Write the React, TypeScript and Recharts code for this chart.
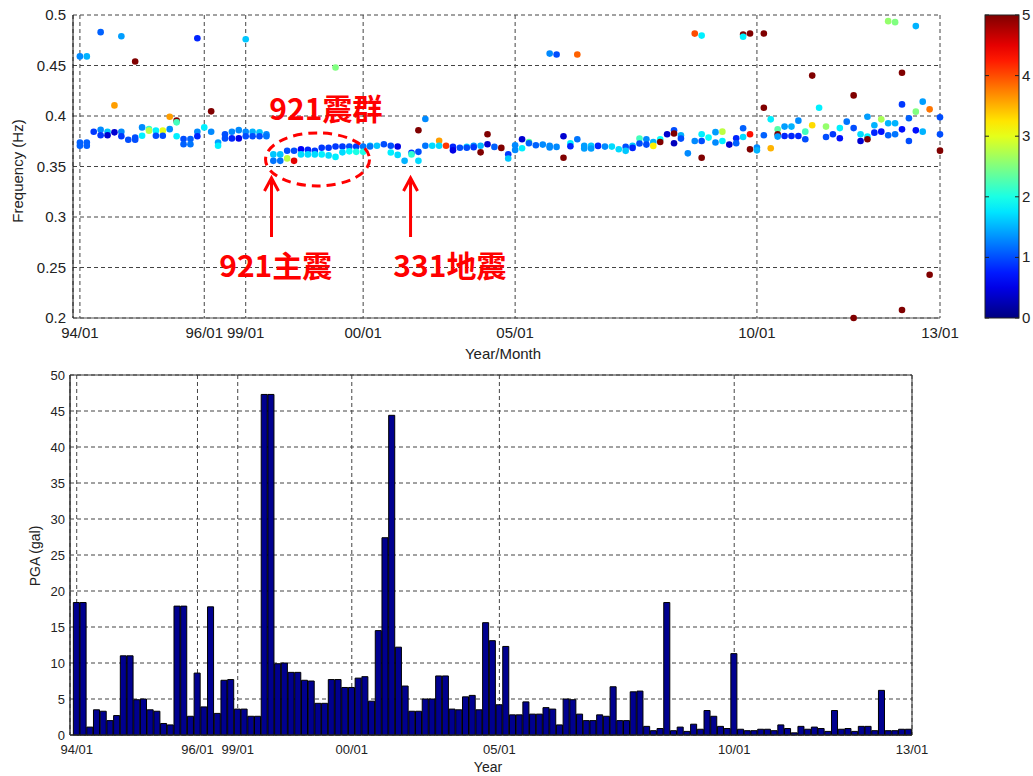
import React from "react";
import {
  ScatterChart,
  Scatter,
  BarChart,
  Bar,
  XAxis,
  YAxis,
  CartesianGrid,
  ReferenceDot,
  ReferenceArea,
} from "recharts";

// shared event-index axis (both panels)
const xDomain: [number, number] = [0, 125.5];
const xTickPos = [1, 19, 25, 42, 64, 99, 125.5];
const xTickLabels = ["94/01", "96/01", "99/01", "00/01", "05/01", "10/01", "13/01"];

const freqTicks = [0.2, 0.25, 0.3, 0.35, 0.4, 0.45, 0.5];
const pgaTicks = [0, 5, 10, 15, 20, 25, 30, 35, 40, 45, 50];
const levelTicks = [0, 1, 2, 3, 4, 5];

// [event index, frequency (Hz), colour level 0-5]
const freqPoints: [number, number, number][] = [
  [1, 0.459, 1.3], [1, 0.3738, 1.1], [1, 0.3705, 1.1],
  [2, 0.459, 1.5], [2, 0.3738, 1.1], [2, 0.3705, 1.1],
  [3, 0.3844, 0.9],
  [4, 0.483, 1.1], [4, 0.3864, 1.3], [4, 0.381, 0.9],
  [5, 0.3844, 1.6], [5, 0.381, 0.4],
  [6, 0.4105, 3.6], [6, 0.3838, 0.4],
  [7, 0.479, 1.4], [7, 0.3844, 1.3], [7, 0.38, 0.9],
  [8, 0.3765, 1.0],
  [9, 0.454, 5], [9, 0.3786, 1.0], [9, 0.3765, 1.0],
  [10, 0.3887, 1.3], [10, 0.3805, 1.8],
  [11, 0.387, 2.1], [11, 0.3855, 2.8],
  [12, 0.3855, 1.8], [12, 0.3805, 1.0],
  [13, 0.3855, 3.0], [13, 0.3805, 1.0],
  [14, 0.3993, 3.6], [14, 0.387, 1.3],
  [15, 0.3954, 5], [15, 0.3937, 2.2], [15, 0.38, 1.8],
  [16, 0.3772, 1.0], [16, 0.372, 1.1],
  [17, 0.3772, 1.1], [17, 0.372, 1.2],
  [18, 0.477, 0.8], [18, 0.3844, 1.3], [18, 0.38, 0.8],
  [19, 0.3887, 1.8],
  [20, 0.4046, 5], [20, 0.3844, 1.3],
  [21, 0.3738, 1.4], [21, 0.3705, 1.8],
  [22, 0.382, 1.0], [22, 0.3778, 1.0],
  [23, 0.3844, 1.3], [23, 0.3778, 0.8],
  [24, 0.386, 1.3], [24, 0.3778, 0.5],
  [25, 0.476, 1.6], [25, 0.3844, 1.3], [25, 0.38, 1.0],
  [26, 0.3844, 1.5], [26, 0.38, 1.0],
  [27, 0.3838, 1.6], [27, 0.38, 1.0],
  [28, 0.382, 1.3], [28, 0.38, 1.2],
  [29, 0.362, 1.6], [29, 0.3556, 1.2],
  [30, 0.362, 1.6], [30, 0.3556, 1.2],
  [31, 0.3656, 1.0], [31, 0.358, 2.8],
  [32, 0.3656, 1.0], [32, 0.3556, 4.5],
  [33, 0.367, 0.6], [33, 0.362, 1.7],
  [34, 0.3665, 0.8], [34, 0.362, 1.7],
  [35, 0.3656, 0.9], [35, 0.362, 1.7],
  [36, 0.3685, 0.9], [36, 0.362, 1.8],
  [37, 0.3685, 0.9], [37, 0.361, 1.7],
  [38, 0.448, 2.5], [38, 0.3698, 0.9], [38, 0.3595, 1.8],
  [39, 0.3698, 0.9], [39, 0.364, 1.7],
  [40, 0.3698, 1.0], [40, 0.365, 1.9],
  [41, 0.3698, 0.9], [41, 0.3645, 2.0],
  [42, 0.3698, 1.2], [42, 0.3645, 2.0],
  [43, 0.3705, 1.6], [43, 0.3698, 1.2],
  [44, 0.3705, 1.6],
  [45, 0.372, 1.0],
  [46, 0.3705, 1.0], [46, 0.3638, 1.8],
  [47, 0.3698, 0.5], [47, 0.3615, 1.7],
  [48, 0.3556, 1.5],
  [49, 0.3635, 0.9], [49, 0.362, 2.1],
  [50, 0.3859, 5], [50, 0.3645, 1.0], [50, 0.3556, 1.7],
  [51, 0.397, 1.3], [51, 0.3705, 1.2],
  [52, 0.3705, 1.7],
  [53, 0.3755, 3.6], [53, 0.3705, 1.7],
  [54, 0.3705, 4.1],
  [55, 0.3694, 0.8], [55, 0.366, 0.5],
  [56, 0.3685, 1.0],
  [57, 0.3694, 1.7], [57, 0.3685, 1.0],
  [58, 0.3705, 1.3], [58, 0.369, 0.9],
  [59, 0.3705, 1.5], [59, 0.364, 5],
  [60, 0.382, 5], [60, 0.372, 0.4],
  [61, 0.3694, 1.1],
  [62, 0.3684, 5],
  [63, 0.3622, 0.9], [63, 0.3579, 1.6],
  [64, 0.371, 1.3], [64, 0.3664, 1.3],
  [65, 0.377, 0.4], [65, 0.368, 1.8],
  [66, 0.3743, 2.3], [66, 0.373, 1.1],
  [67, 0.371, 1.1],
  [68, 0.3717, 1.3],
  [69, 0.4618, 1.3], [69, 0.3704, 1.3], [69, 0.3688, 1.3],
  [70, 0.4609, 1.0], [70, 0.3694, 1.3],
  [71, 0.38, 0.4], [71, 0.3586, 5],
  [72, 0.373, 1.8], [72, 0.37, 0.8],
  [73, 0.4609, 3.9], [73, 0.377, 1.2],
  [74, 0.3704, 1.4], [74, 0.3678, 1.4],
  [75, 0.3704, 1.6], [75, 0.3678, 1.4],
  [76, 0.3704, 0.8],
  [77, 0.3697, 1.3],
  [78, 0.3697, 1.7],
  [79, 0.3671, 1.7],
  [80, 0.3694, 1.0], [80, 0.3655, 1.6],
  [81, 0.3704, 1.6], [81, 0.3684, 0.8],
  [82, 0.3776, 2.2], [82, 0.3727, 1.0],
  [83, 0.377, 1.3], [83, 0.3717, 1.0],
  [84, 0.3743, 1.5], [84, 0.3704, 3.2],
  [85, 0.377, 1.9], [85, 0.3743, 5],
  [86, 0.382, 0.4],
  [87, 0.3859, 1.0], [87, 0.3826, 5], [87, 0.373, 0.3],
  [88, 0.381, 1.5], [88, 0.3776, 1.0],
  [89, 0.363, 1.3],
  [90, 0.4816, 4.0], [90, 0.3753, 1.3],
  [91, 0.4796, 1.8], [91, 0.382, 1.8], [91, 0.3753, 1.0], [91, 0.3586, 5],
  [92, 0.3786, 1.9],
  [93, 0.384, 1.4], [93, 0.3737, 1.3],
  [94, 0.3845, 2.8], [94, 0.3753, 1.8],
  [95, 0.3717, 0.4],
  [96, 0.378, 0.8], [96, 0.373, 1.1],
  [97, 0.4807, 5], [97, 0.4785, 1.8], [97, 0.3878, 1.1], [97, 0.3792, 1.7],
  [98, 0.4817, 5], [98, 0.3819, 4.3], [98, 0.367, 5],
  [99, 0.3687, 1.3], [99, 0.366, 1.5],
  [100, 0.4817, 5], [100, 0.4082, 5], [100, 0.381, 1.1],
  [101, 0.3967, 1.8], [101, 0.368, 3.5],
  [102, 0.3868, 2.3], [102, 0.382, 5], [102, 0.3796, 1.4],
  [103, 0.3895, 1.4], [103, 0.3802, 0.8],
  [104, 0.3895, 1.5], [104, 0.3802, 0.8],
  [105, 0.3954, 1.3], [105, 0.3802, 0.8],
  [106, 0.3845, 2.2], [106, 0.377, 1.0],
  [107, 0.44, 5], [107, 0.3908, 3.3],
  [108, 0.4082, 1.8],
  [109, 0.3895, 2.6], [109, 0.3792, 1.0],
  [110, 0.382, 0.9],
  [111, 0.388, 1.8], [111, 0.378, 0.7],
  [112, 0.3944, 1.2],
  [113, 0.4204, 5], [113, 0.388, 1.0], [113, 0.2, 5],
  [114, 0.382, 1.7], [114, 0.3753, 0.4],
  [115, 0.3993, 1.4], [115, 0.3796, 1.8], [115, 0.377, 5],
  [116, 0.3908, 1.5], [116, 0.3835, 0.8],
  [117, 0.3967, 2.7], [117, 0.3845, 0.7],
  [118, 0.4939, 2.6], [118, 0.3928, 1.5], [118, 0.381, 1.1],
  [119, 0.4929, 2.5], [119, 0.3928, 1.5], [119, 0.382, 1.2],
  [120, 0.4428, 5], [120, 0.4115, 0.9], [120, 0.3868, 0.7], [120, 0.2079, 5],
  [121, 0.3977, 1.1], [121, 0.3753, 1.0],
  [122, 0.489, 1.5], [122, 0.4043, 2.5], [122, 0.3858, 0.7],
  [123, 0.4142, 1.4], [123, 0.3845, 1.5],
  [124, 0.4066, 3.8], [124, 0.2428, 5],
  [125.5, 0.3987, 1.0], [125.5, 0.382, 1.0], [125.5, 0.3657, 5],
];

// PGA (gal) for events 1..125
const pgaValues = [
  18.4, 18.4, 1.1, 3.5, 3.3, 2.0, 2.7, 11.0, 11.0, 4.9,
  5.0, 3.5, 3.3, 1.6, 1.4, 17.9, 17.9, 2.6, 8.6, 3.9,
  17.8, 3.0, 7.6, 7.7, 3.6, 3.6, 2.6, 2.6, 47.3, 47.3,
  9.9, 10.0, 8.7, 8.7, 7.6, 7.5, 4.4, 4.4, 7.7, 7.7,
  6.6, 6.6, 7.9, 8.1, 4.7, 14.5, 27.4, 44.4, 12.2, 6.8,
  3.3, 3.3, 5.0, 5.0, 8.2, 8.2, 3.6, 3.5, 5.3, 5.5,
  3.5, 15.6, 13.1, 4.2, 12.3, 2.8, 2.8, 4.6, 2.9, 2.9,
  3.8, 3.6, 1.4, 5.0, 4.9, 2.9, 2.0, 2.0, 2.8, 2.6,
  6.7, 2.0, 2.0, 6.0, 6.1, 1.2, 0.6, 0.9, 18.4, 0.6,
  1.1, 0.5, 1.5, 0.8, 3.4, 2.6, 1.2, 0.9, 11.3, 0.8,
  0.6, 0.6, 0.8, 0.8, 0.6, 1.4, 0.9, 0.3, 1.2, 0.8,
  1.1, 0.9, 0.5, 3.4, 0.8, 0.9, 0.5, 1.2, 1.2, 0.6,
  6.2, 0.6, 0.6, 0.8, 0.8,
];

const scatterData = freqPoints.map(([x, f, c]) => ({ x, f, c }));
const barData = pgaValues.map((pga, i) => ({ x: i + 1, pga }));

// MATLAB-style jet colormap over 0..5
function jet(v: number) {
  const t = Math.max(0, Math.min(1, v / 5));
  const ch = (k: number) => Math.round(255 * Math.max(0, Math.min(1, 1.5 - Math.abs(4 * t - k))));
  return `rgb(${ch(3)},${ch(2)},${ch(1)})`;
}

const font = "'Liberation Sans', Arial, sans-serif";
const cjk = "'Noto Sans CJK TC', 'Noto Sans CJK SC', sans-serif";
const tickLabel = (v: number) => xTickLabels[xTickPos.indexOf(v)] ?? "";
const gridStroke = "#444";

const Dot = (p: any) => (
  <circle cx={p.cx} cy={p.cy} r={3.3} fill={jet(p.payload.c)} />
);

const RedText = (text: string) => (p: any) => (
  <text x={p.cx} y={p.cy} textAnchor="middle" fill="#f00" fontSize={30}
    fontWeight="bold" fontFamily={cjk}>{text}</text>
);

const UpArrow = (p: any) => (
  <g stroke="#f00" strokeWidth={3} fill="none">
    <line x1={p.cx} y1={p.cy + 1} x2={p.cx} y2={p.cy + 60} />
    <polyline points={`${p.cx - 7},${p.cy + 14} ${p.cx},${p.cy + 1} ${p.cx + 7},${p.cy + 14}`} />
  </g>
);

const SwarmRing = (p: any) => (
  <ellipse cx={p.cx} cy={p.cy} rx={52} ry={26.5} fill="none" stroke="#f00"
    strokeWidth={3} strokeDasharray="9 6" />
);

function ColorBar() {
  const x0 = 985, y0 = 15, w = 34, h = 303;
  const stops = Array.from({ length: 21 }, (_, i) => i / 20);
  return (
    <svg width={1033} height={360} style={{ position: "absolute", left: 0, top: 0, pointerEvents: "none" }}>
      <defs>
        <linearGradient id="jetbar" x1="0" y1="1" x2="0" y2="0">
          {stops.map((s) => (
            <stop key={s} offset={s} stopColor={jet(s * 5)} />
          ))}
        </linearGradient>
      </defs>
      <rect x={x0} y={y0} width={w} height={h} fill="url(#jetbar)" stroke="#222" strokeWidth={1} />
      {levelTicks.map((t) => {
        const y = y0 + h - (t / 5) * h;
        return (
          <g key={t}>
            <line x1={x0} x2={x0 + 4} y1={y} y2={y} stroke="#222" />
            <line x1={x0 + w - 4} x2={x0 + w} y1={y} y2={y} stroke="#222" />
            <text x={x0 + w + 3} y={y + 5} fontSize={15} fontFamily={font} fill="#222">{t}</text>
          </g>
        );
      })}
    </svg>
  );
}

export default function App() {
  const tickStyle = { fontSize: 15, fontFamily: font, fill: "#222" };
  const tickStyleSm = { fontSize: 13, fontFamily: font, fill: "#222" };
  const barW = (912 - 70) / (xDomain[1] - xDomain[0]);

  return (
    <div style={{ position: "absolute", left: 0, top: 0, width: 1033, height: 776, background: "#fff" }}>
      <div style={{ position: "absolute", left: 0, top: 0 }}>
        <ScatterChart width={1033} height={360} margin={{ top: 15, right: 93, bottom: 12, left: 13 }}>
          <CartesianGrid stroke={gridStroke} strokeDasharray="4 3" />
          <XAxis type="number" dataKey="x" domain={xDomain} ticks={xTickPos} interval={0}
            tickFormatter={tickLabel} height={30} tickSize={0} tickMargin={9}
            tick={tickStyle} axisLine={{ stroke: "#555" }} />
          <YAxis type="number" dataKey="f" domain={[0.2, 0.5]} ticks={freqTicks} interval={0}
            tickFormatter={(v: number) => String(Math.round(v * 100) / 100)}
            width={60} tickSize={0} tickMargin={7} tick={tickStyle} axisLine={{ stroke: "#111" }} />
          <Scatter data={scatterData} shape={Dot} isAnimationActive={false} />
          <ReferenceDot x={35.4} y={0.357} shape={SwarmRing} />
          <ReferenceDot x={28.73} y={0.3396} shape={UpArrow} />
          <ReferenceDot x={48.86} y={0.3396} shape={UpArrow} />
          <ReferenceDot x={36.6} y={0.396} shape={RedText("921震群")} />
          <ReferenceDot x={29.35} y={0.2406} shape={RedText("921主震")} />
          <ReferenceDot x={54.55} y={0.2406} shape={RedText("331地震")} />
        </ScatterChart>
      </div>
      <ColorBar />

      <div style={{ position: "absolute", left: 0, top: 360 }}>
        <BarChart width={1033} height={416} data={barData} barCategoryGap={0} barGap={0}
          margin={{ top: 15, right: 121, bottom: 11, left: 10 }}>
          <CartesianGrid stroke={gridStroke} strokeDasharray="4 3" />
          <XAxis type="number" dataKey="x" domain={xDomain} ticks={xTickPos} interval={0}
            tickFormatter={tickLabel} height={30} tickSize={0} tickMargin={10}
            tick={tickStyleSm} axisLine={{ stroke: "#333" }} />
          <YAxis type="number" domain={[0, 50]} ticks={pgaTicks} interval={0}
            width={60} tickSize={0} tickMargin={5} tick={tickStyleSm} axisLine={{ stroke: "#333" }} />
          <Bar dataKey="pga" fill="#00008F" stroke="#000" strokeWidth={1} barSize={barW}
            isAnimationActive={false} />
          <ReferenceArea x1={xDomain[0]} x2={xDomain[1]} y1={0} y2={50} fill="none"
            fillOpacity={0} stroke="#333" strokeOpacity={1} />
        </BarChart>
      </div>

      <svg width={1033} height={776} style={{ position: "absolute", left: 0, top: 0, pointerEvents: "none" }}>
        <text transform="translate(23,171) rotate(-90)" textAnchor="middle" fontSize={15}
          fontFamily={font} fill="#222">Frequency (Hz)</text>
        <text x={503} y={359} textAnchor="middle" fontSize={15} fontFamily={font} fill="#222">Year/Month</text>
        <text transform="translate(40,556) rotate(-90)" textAnchor="middle" fontSize={14}
          fontFamily={font} fill="#222">PGA (gal)</text>
        <text x={488} y={772} textAnchor="middle" fontSize={14} fontFamily={font} fill="#222">Year</text>
      </svg>
    </div>
  );
}
